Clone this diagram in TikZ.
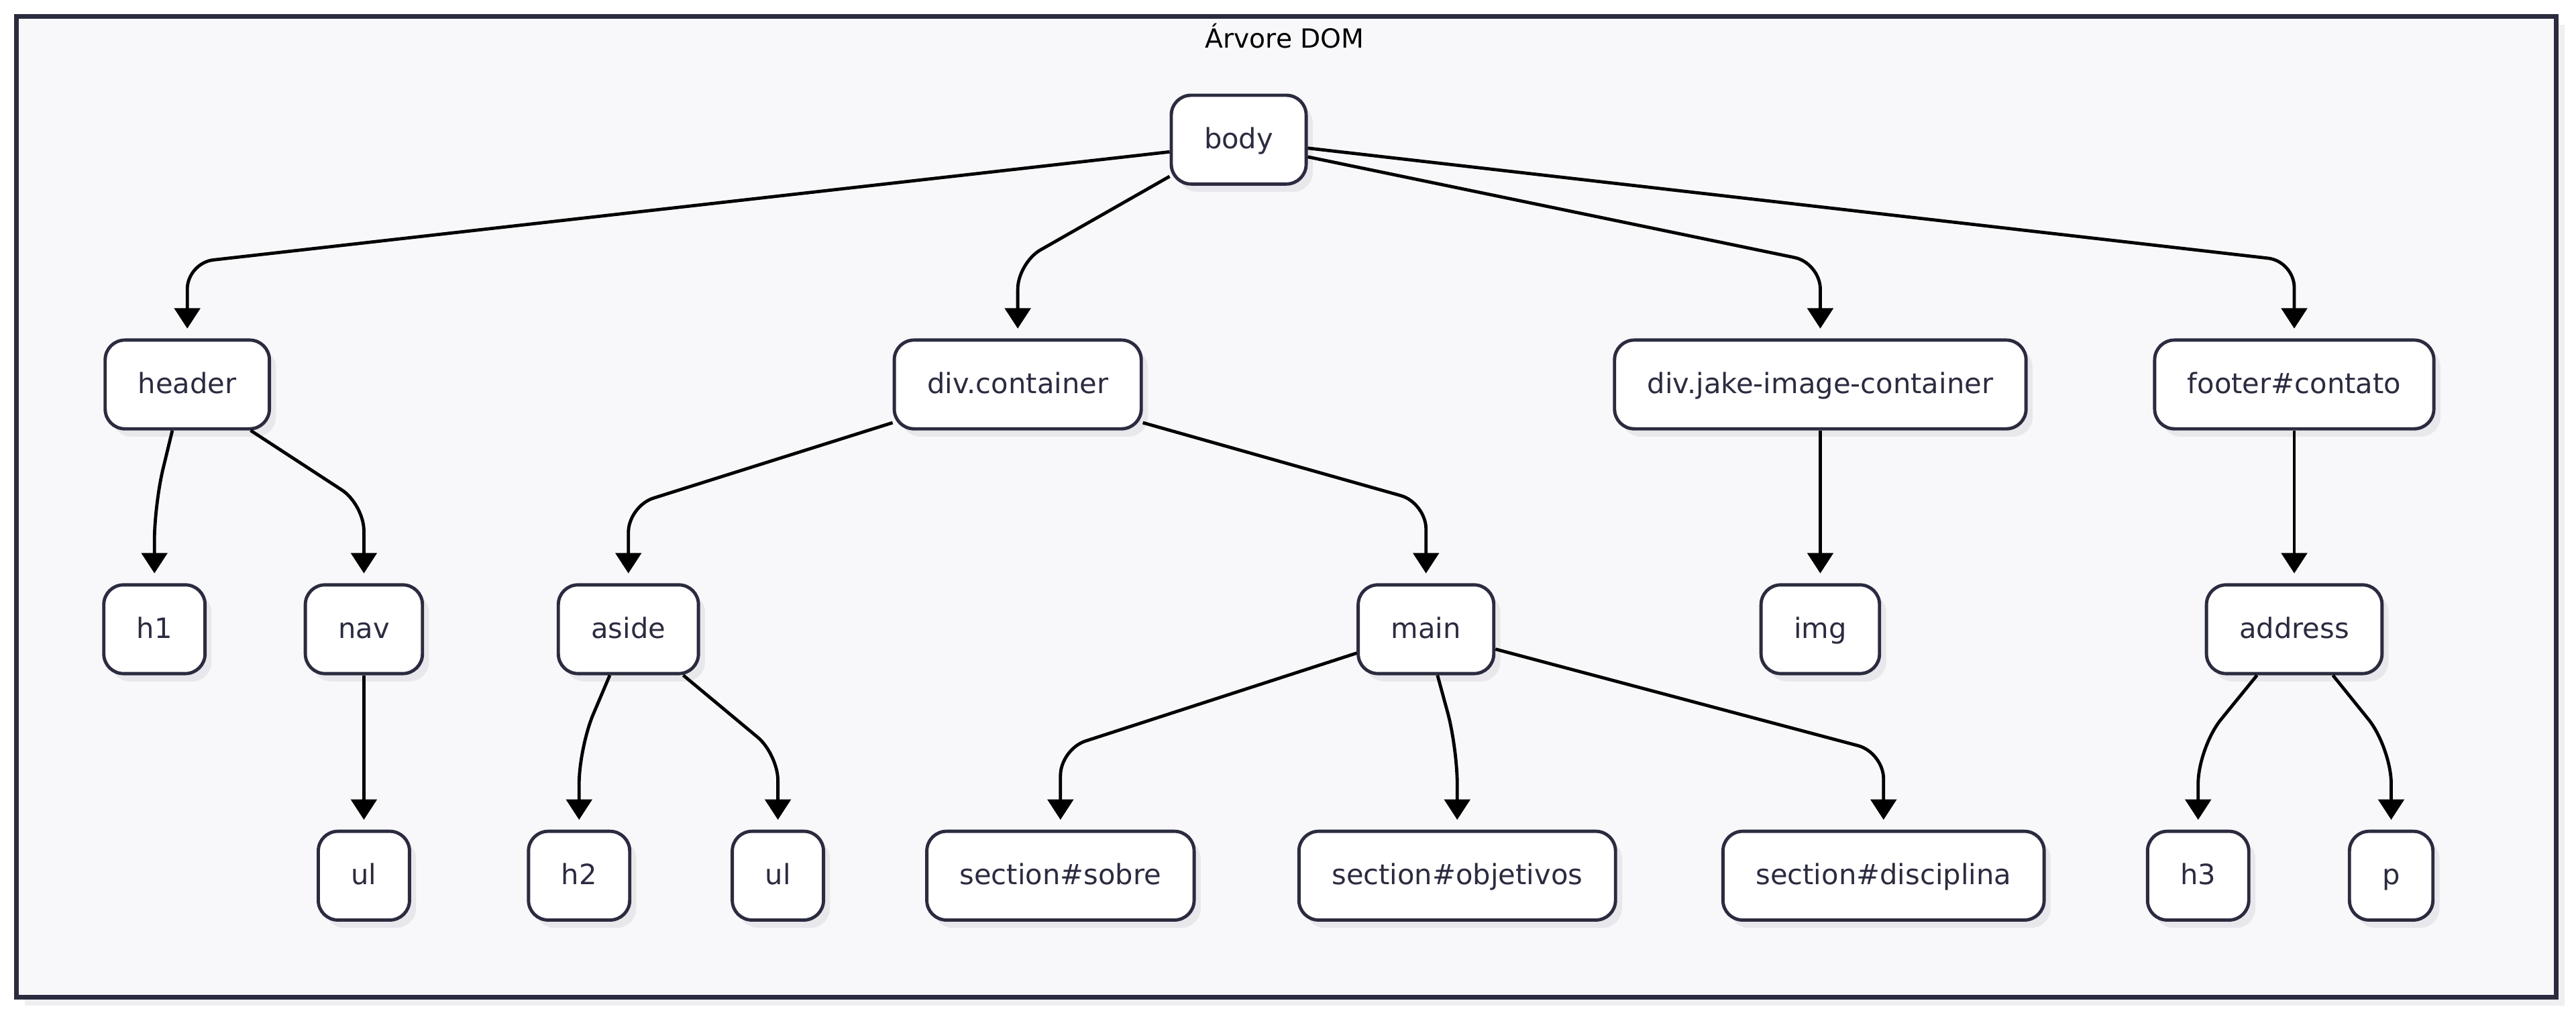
\documentclass[tikz,border=0pt]{standalone}
\usepackage{fontspec}
\setmainfont{DejaVu Sans}
\usetikzlibrary{arrows.meta,shadows}
\definecolor{DOMline}{HTML}{2B2B40}
\definecolor{DOMbg}{HTML}{F8F8FA}
\definecolor{DOMshade}{HTML}{E8E8EC}
\definecolor{DOMframe}{HTML}{EFEFF1}

\begin{document}
\begin{tikzpicture}[x=0.025cm, y=-0.025cm,
    elem/.style={draw=DOMline, line width=1.42pt, fill=white, rounded corners=0.3cm,
      minimum height=1.35cm, inner xsep=0.5cm, text=DOMline,
      text height=1.9ex, text depth=0.5ex,
      font=\fontsize{12.1}{14}\selectfont,
      drop shadow={shadow xshift=0.1cm, shadow yshift=-0.12cm, fill=DOMshade, opacity=1}},
    edge/.style={line width=1.4pt, -{Triangle[length=0.31cm, width=0.39cm]},
      rounded corners=0.4cm, shorten >=0.15cm},
    curvy/.style={rounded corners=0.55cm}]
    \useasboundingbox (0,0) rectangle (1568,619);

    % frame
    \fill[DOMframe] (15,15) rectangle (1561,612);
    \draw[draw=DOMline, line width=1.9pt, fill=DOMbg] (10,10) rectangle (1556,607);
    \node[font=\fontsize{11.4}{13}\selectfont] (title) at (782,22) {Árvore DOM};

    \node[elem] (body) at (754,85) {body};

    \node[elem] (header) at (114,234) {header};
    \node[elem] (container) at (619.5,234) {div.container};
    \node[elem] (jake) at (1108,234) {div.jake-image-container};
    \node[elem] (footer) at (1396.5,234) {footer\#contato};

    \node[elem] (h1) at (94,383) {h1};
    \node[elem] (nav) at (221.5,383) {nav};
    \node[elem] (aside) at (382.5,383) {aside};
    \node[elem] (main) at (868,383) {main};
    \node[elem] (img) at (1108,383) {img};
    \node[elem] (address) at (1396.5,383) {address};

    \node[elem] (navul) at (221.5,533) {ul};
    \node[elem] (h2) at (352.5,533) {h2};
    \node[elem] (asideul) at (473.5,533) {ul};
    \node[elem] (sobre) at (645.5,533) {section\#sobre};
    \node[elem] (objetivos) at (887,533) {section\#objetivos};
    \node[elem] (disciplina) at (1146.5,533) {section\#disciplina};
    \node[elem] (h3) at (1338,533) {h3};
    \node[elem] (p) at (1455.5,533) {p};

    \draw[edge] (body.190) -- (header.north |- 0,160) -- (header.north);
    \draw[edge] (body.208) -- (container.north |- 0,160) -- (container.north);
    \draw[edge] (body.346) -- (jake.north |- 0,160) -- (jake.north);
    \draw[edge] (body.353) -- (footer.north |- 0,159) -- (footer.north);

    \draw[edge, curvy] (header.252) -- (h1.north |- 0,307) -- (h1.north);
    \draw[edge] (header.-36) -- (nav.north |- 0,307) -- (nav.north);
    \draw[edge] (nav) -- (navul);
    \draw[edge] (container.197) -- (aside.north |- 0,308) -- (aside.north);
    \draw[edge] (container.343) -- (main.north |- 0,306) -- (main.north);
    \draw[edge] (jake) -- (img);
    \draw[edge] (footer) -- (address);

    \draw[edge, curvy] (aside.248) -- (h2.north |- 0,455) -- (h2.north);
    \draw[edge] (aside.-40) -- (asideul.north |- 0,459) -- (asideul.north);
    \draw[edge] (main.199) -- (sobre.north |- 0,456) -- (sobre.north);
    \draw[edge, curvy] (main.284) -- (objetivos.north |- 0,455) -- (objetivos.north);
    \draw[edge] (main.-16) -- (disciplina.north |- 0,458) -- (disciplina.north);
    \draw[edge, curvy] (address.231) -- (h3.north |- 0,455) -- (h3.north);
    \draw[edge, curvy] (address.-50) -- (p.north |- 0,455) -- (p.north);
  \end{tikzpicture}
\end{document}
